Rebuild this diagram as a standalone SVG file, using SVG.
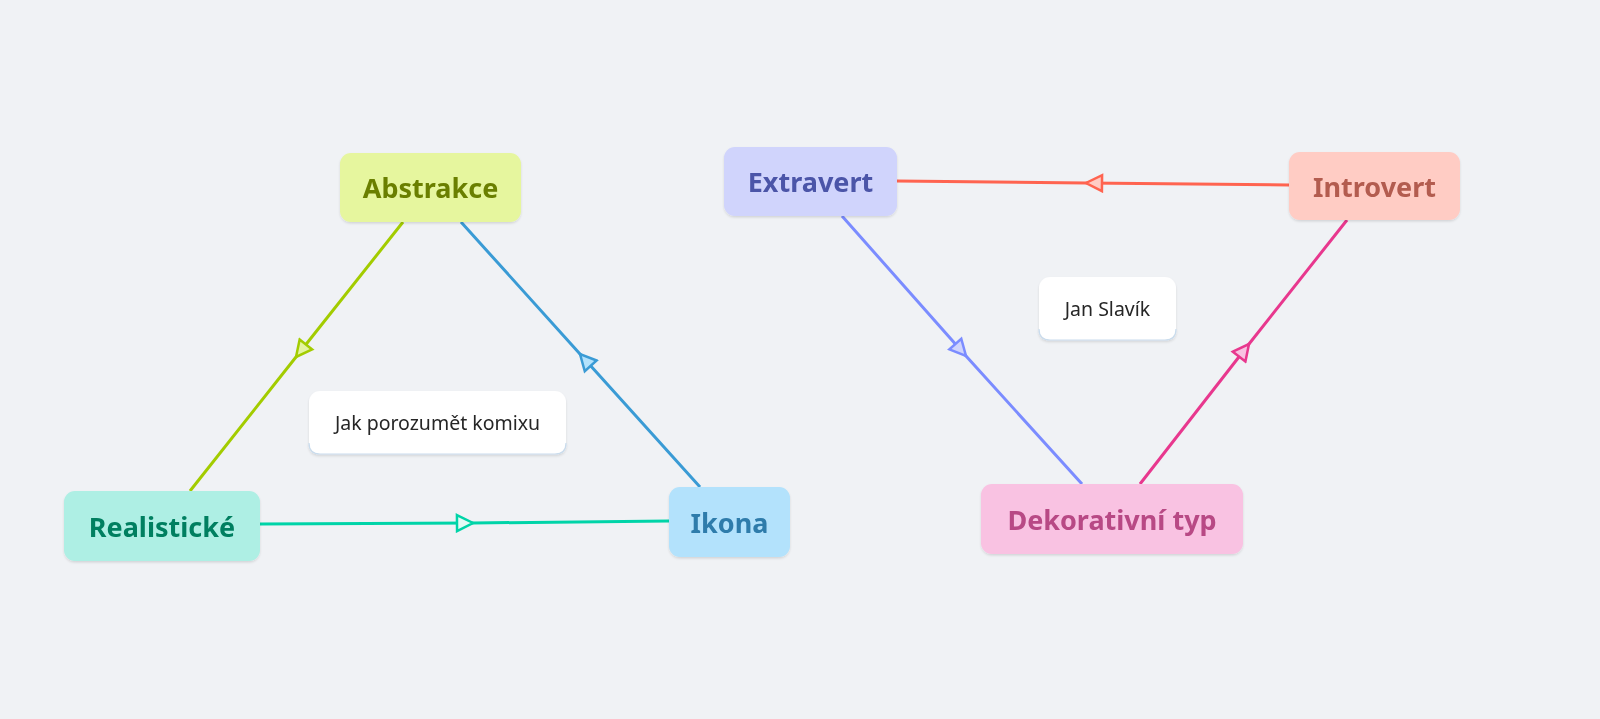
<svg xmlns="http://www.w3.org/2000/svg" width="1600" height="719" viewBox="0 0 1600 719">
<defs>
<style>
.n{font-family:"Source Sans Pro","Noto Sans","Open Sans",sans-serif;font-weight:700;font-size:27px;text-anchor:middle;dominant-baseline:central}
.t{font-family:"Source Sans Pro","Noto Sans","Open Sans",sans-serif;font-weight:400;font-size:19.5px;fill:#262626;text-anchor:middle;dominant-baseline:central}
.c{fill:none;stroke-width:3}
.sh{filter:url(#ds)}
</style>
<filter id="ds" x="-10%" y="-10%" width="120%" height="130%">
<feDropShadow dx="0" dy="1.5" stdDeviation="1.2" flood-color="#000" flood-opacity="0.12"/>
</filter>
<marker id="mg" viewBox="0 0 22 20" refX="18" refY="10" markerWidth="22" markerHeight="20" markerUnits="userSpaceOnUse" orient="auto"><path d="M2,2 L18,10 L2,18 Z" fill="#e4f4a0" stroke="#a3cc00" stroke-width="2.5"/></marker>
<marker id="mb" viewBox="0 0 22 20" refX="18" refY="10" markerWidth="22" markerHeight="20" markerUnits="userSpaceOnUse" orient="auto"><path d="M2,2 L18,10 L2,18 Z" fill="#b3e2fc" stroke="#3a9bd5" stroke-width="2.5"/></marker>
<marker id="mt" viewBox="0 0 22 20" refX="18" refY="10" markerWidth="22" markerHeight="20" markerUnits="userSpaceOnUse" orient="auto"><path d="M2,2 L18,10 L2,18 Z" fill="#e6faf5" stroke="#00d4a8" stroke-width="2.5"/></marker>
<marker id="mr" viewBox="0 0 22 20" refX="18" refY="10" markerWidth="22" markerHeight="20" markerUnits="userSpaceOnUse" orient="auto"><path d="M2,2 L18,10 L2,18 Z" fill="#ffccc4" stroke="#ff6450" stroke-width="2.5"/></marker>
<marker id="mv" viewBox="0 0 22 20" refX="18" refY="10" markerWidth="22" markerHeight="20" markerUnits="userSpaceOnUse" orient="auto"><path d="M2,2 L18,10 L2,18 Z" fill="#d0d4fc" stroke="#7b8cff" stroke-width="2.5"/></marker>
<marker id="mp" viewBox="0 0 22 20" refX="18" refY="10" markerWidth="22" markerHeight="20" markerUnits="userSpaceOnUse" orient="auto"><path d="M2,2 L18,10 L2,18 Z" fill="#f9c2e2" stroke="#e8388e" stroke-width="2.5"/></marker>
</defs>
<rect width="1600" height="719" fill="#f0f2f5"/>
<g id="connectors">
<polyline class="c" stroke="#a3cc00" points="403,222 296,357 190,491" marker-mid="url(#mg)"/>
<polyline class="c" stroke="#3a9bd5" points="700,487 580,354 461,222" marker-mid="url(#mb)"/>
<polyline class="c" stroke="#00d4a8" points="260,524 473,523 669,521" marker-mid="url(#mt)"/>
<polyline class="c" stroke="#ff6450" points="1289,185 1086,183 897,181" marker-mid="url(#mr)"/>
<polyline class="c" stroke="#7b8cff" points="842,216 966,356 1082,484" marker-mid="url(#mv)"/>
<polyline class="c" stroke="#e8388e" points="1140,484 1249,344 1347,220" marker-mid="url(#mp)"/>
</g>
<g id="abstrakce" class="sh"><rect x="340" y="153" width="181" height="69" rx="11" fill="#e6f69e"/><text class="n" x="430.5" y="187.5" fill="#6b7f00">Abstrakce</text></g>
<g id="realisticke" class="sh"><rect x="64" y="491" width="196" height="70" rx="11" fill="#aeefe4"/><text class="n" x="162" y="526" fill="#007f60">Realistické</text></g>
<g id="ikona" class="sh"><rect x="669" y="487" width="121" height="70" rx="11" fill="#b3e2fc"/><text class="n" x="729.5" y="522" fill="#2e7bab">Ikona</text></g>
<g id="jak" class="sh"><rect x="309" y="391" width="257" height="63" rx="11" fill="#ffffff"/><path d="M309,443 Q309,454 320,454 L555,454 Q566,454 566,443" fill="none" stroke="#c9dced" stroke-width="1.2"/><text class="t" x="437.5" y="422">Jak porozumět komixu</text></g>
<g id="extravert" class="sh"><rect x="724" y="147" width="173" height="69" rx="11" fill="#d0d4fc"/><text class="n" x="810.5" y="181.5" fill="#4c55a8">Extravert</text></g>
<g id="introvert" class="sh"><rect x="1289" y="152" width="171" height="68" rx="11" fill="#ffccc4"/><text class="n" x="1374.5" y="186" fill="#b35c50">Introvert</text></g>
<g id="jan" class="sh"><rect x="1039" y="277" width="137" height="63" rx="11" fill="#ffffff"/><path d="M1039,329 Q1039,340 1050,340 L1165,340 Q1176,340 1176,329" fill="none" stroke="#c9dced" stroke-width="1.2"/><text class="t" x="1107.5" y="308">Jan Slavík</text></g>
<g id="dekorativni" class="sh"><rect x="981" y="484" width="262" height="70" rx="11" fill="#f9c2e2"/><text class="n" x="1112" y="519" fill="#b84a85">Dekorativní typ</text></g>
</svg>
